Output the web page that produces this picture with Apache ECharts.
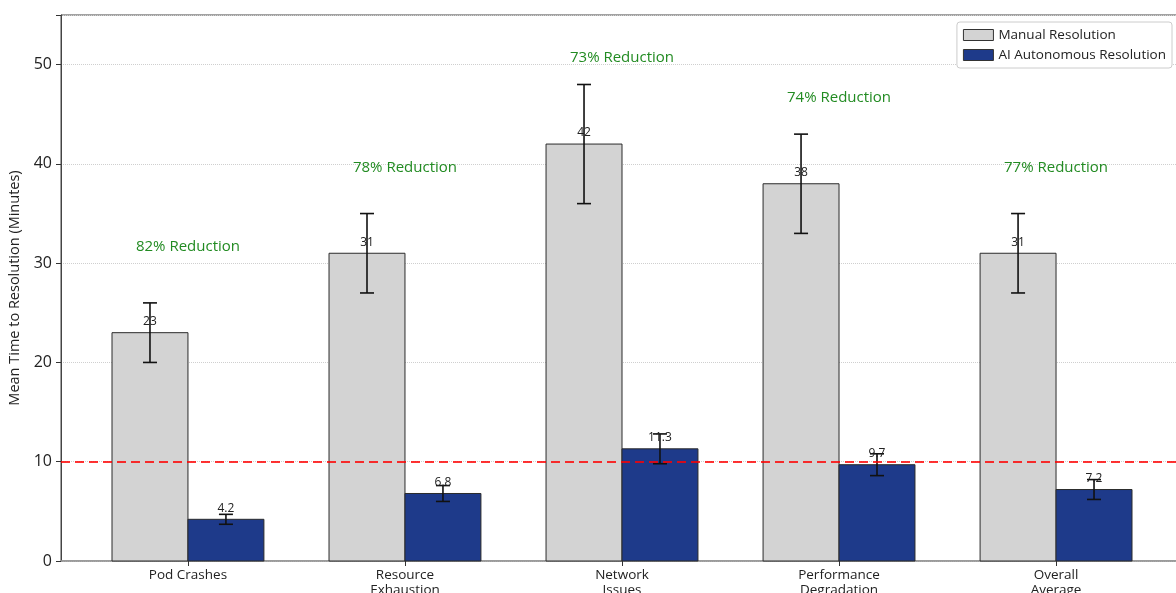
<!DOCTYPE html>
<html><head><meta charset="utf-8">
<script src="https://cdn.jsdelivr.net/npm/echarts@6/dist/echarts.min.js"></script>
<style>html,body{margin:0;padding:0;background:#fff}#c{width:1176px;height:593px}</style>
</head><body><div id="c"></div>
<script>
const categories = ['Pod Crashes', 'Resource\nExhaustion', 'Network\nIssues', 'Performance\nDegradation', 'Overall\nAverage'];
const manualValues = [23, 31, 42, 38, 31];
const manualErrors = [3, 4, 6, 5, 4];
const aiValues = [4.2, 6.8, 11.3, 9.7, 7.2];
const aiErrors = [0.5, 0.8, 1.5, 1.1, 1.0];
const reductionLabels = ['82% Reduction', '78% Reduction', '73% Reduction', '74% Reduction', '77% Reduction'];
const categoryPositions = [0, 1, 2, 3, 4];
const targetLine = 10;

const FONT = 'Open Sans';
const BAR_W = 0.35;
const REDUCTION_OFFSET = 8;

function makeRender(side, fill, withReduction) {
  return function (params, api) {
    const i = api.value(0);
    const v = api.value(1);
    const e = api.value(2);
    const x0 = side < 0 ? i - BAR_W : i;
    const x1 = side < 0 ? i : i + BAR_W;
    const xc = i + side * BAR_W / 2;
    const p0 = api.coord([x0, v]);
    const p1 = api.coord([x1, 0]);
    const top = api.coord([xc, v + e]);
    const bot = api.coord([xc, v - e]);
    const lab = api.coord([xc, v]);
    const cap = 7;
    const children = [
      { type: 'rect', shape: { x: p0[0], y: p0[1], width: p1[0] - p0[0], height: p1[1] - p0[1] },
        style: { fill: fill, stroke: '#2b2b2b', lineWidth: 1 } },
      { type: 'line', shape: { x1: top[0], y1: top[1], x2: bot[0], y2: bot[1] }, style: { stroke: '#111', lineWidth: 1.6 } },
      { type: 'line', shape: { x1: top[0] - cap, y1: top[1], x2: top[0] + cap, y2: top[1] }, style: { stroke: '#111', lineWidth: 1.6 } },
      { type: 'line', shape: { x1: bot[0] - cap, y1: bot[1], x2: bot[0] + cap, y2: bot[1] }, style: { stroke: '#111', lineWidth: 1.6 } },
      { type: 'text', x: lab[0], y: lab[1] - 5,
        style: { text: String(v), textAlign: 'center', textVerticalAlign: 'bottom', fontSize: 12, fontFamily: FONT, fill: '#222' } }
    ];
    if (withReduction) {
      const rp = api.coord([i, v + REDUCTION_OFFSET]);
      children.push({ type: 'text', x: rp[0], y: rp[1] + 1,
        style: { text: reductionLabels[params.dataIndex], textAlign: 'center', textVerticalAlign: 'bottom', fontSize: 15, fontFamily: FONT, fill: '#228B22' } });
    }
    return { type: 'group', children: children };
  };
}

const chart = echarts.init(document.getElementById('c'), null, { renderer: 'canvas' });
chart.setOption({
  animation: false,
  backgroundColor: '#fff',
  textStyle: { fontFamily: FONT },
  grid: { left: 61, top: 15, width: 1122, height: 546, show: true, borderColor: '#444', borderWidth: 1,
    backgroundColor: 'transparent', containLabel: false, outerBoundsMode: 'none' },
  legend: {
    top: 22, right: 4, orient: 'vertical', itemGap: 6, itemWidth: 30, itemHeight: 11,
    padding: [6, 6, 6, 6], borderColor: '#ccc', borderWidth: 1, borderRadius: 3, backgroundColor: '#fff',
    textStyle: { fontSize: 13.5, color: '#222', fontFamily: FONT },
    data: [
      { name: 'Manual Resolution', icon: 'rect', itemStyle: { color: '#d3d3d3', borderColor: '#333', borderWidth: 1 } },
      { name: 'AI Autonomous Resolution', icon: 'rect', itemStyle: { color: '#1e3a8a', borderColor: '#333', borderWidth: 1 } }
    ]
  },
  xAxis: {
    type: 'value', min: -0.585, max: 4.585,
    splitLine: { show: false },
    axisLine: { show: true, onZero: false, lineStyle: { color: '#999', width: 1.5 } },
    axisTick: { show: true, customValues: categoryPositions, length: 5, lineStyle: { color: '#333' } },
    axisLabel: { show: true, customValues: categoryPositions, margin: 7, fontSize: 13.5, lineHeight: 15, color: '#222', fontFamily: FONT,
      formatter: function (v) { return categories[Math.round(v)]; } }
  },
  yAxis: {
    type: 'value', min: 0, max: 55, interval: 10, position: 'left',
    name: 'Mean Time to Resolution (Minutes)', nameLocation: 'middle', nameGap: 37,
    nameTextStyle: { fontSize: 14.5, color: '#222', fontFamily: FONT },
    axisLine: { show: true, onZero: false, lineStyle: { color: '#444' } },
    axisTick: { show: true, length: 5, lineStyle: { color: '#333' } },
    axisLabel: { fontSize: 16, color: '#222', margin: 9, fontFamily: FONT,
      formatter: function (v) { return v > 50 ? '' : String(v); } },
    splitLine: { show: true, lineStyle: { color: '#cfcfcf', type: 'dotted', width: 1 } }
  },
  series: [
    {
      name: 'Manual Resolution', type: 'custom', z: 2,
      itemStyle: { color: '#d3d3d3' },
      data: manualValues.map((v, i) => [categoryPositions[i], v, manualErrors[i]]),
      renderItem: makeRender(-1, '#d3d3d3', true),
      encode: { x: 0, y: 1 }
    },
    {
      name: 'AI Autonomous Resolution', type: 'custom', z: 2,
      itemStyle: { color: '#1e3a8a' },
      data: aiValues.map((v, i) => [categoryPositions[i], v, aiErrors[i]]),
      renderItem: makeRender(1, '#1e3a8a', false),
      encode: { x: 0, y: 1 }
    },
    {
      name: 'target', type: 'line', data: [], z: 5,
      markLine: {
        silent: true, symbol: 'none', label: { show: false },
        lineStyle: { color: 'rgba(255,0,0,0.8)', type: [9, 5], width: 2 },
        data: [{ yAxis: targetLine }]
      }
    }
  ]
});
</script></body></html>
